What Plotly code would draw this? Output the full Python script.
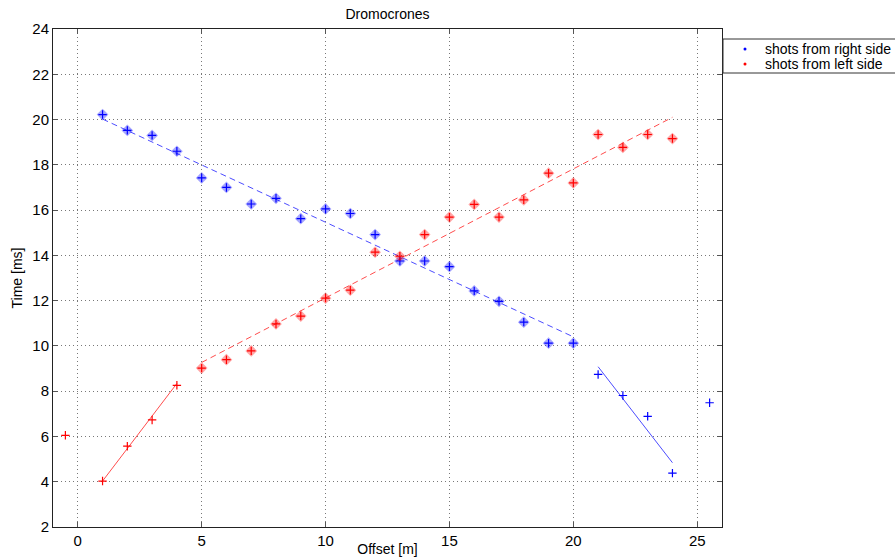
import plotly.graph_objects as go

# ---- data ----
right_x = [1, 2, 3, 4, 5, 6, 7, 8, 9, 10, 11, 12, 13, 14, 15, 16, 17, 18, 19, 20,
           21, 22, 23, 24, 25.5]
right_t = [20.22, 19.52, 19.30, 18.60, 17.42, 17.00, 16.27, 16.52, 15.62, 16.05,
           15.85, 14.92, 13.75, 13.75, 13.50, 12.43, 11.97, 11.05, 10.12, 10.12,
           8.74, 7.81, 6.89, 4.38, 7.49]
right_fit_n = 20  # first N points marked as used in the dashed fit

left_x = [-0.5, 1, 2, 3, 4, 5, 6, 7, 8, 9, 10, 11, 12, 13, 14, 15, 16, 17, 18, 19,
          20, 21, 22, 23, 24]
left_t = [6.05, 4.03, 5.57, 6.73, 8.26, 9.02, 9.39, 9.78, 10.97, 11.32, 12.11,
          12.46, 14.14, 13.96, 14.92, 15.69, 16.25, 15.69, 16.45, 17.63, 17.20,
          19.34, 18.77, 19.34, 19.16]
left_fit_start = 5  # index of first point used in the dashed fit

# fitted line endpoints
right_dash_x = [1, 20]
right_dash_t = [20.02, 10.40]
left_dash_x = [5, 24]
left_dash_t = [9.27, 20.10]
right_solid_x = [21, 24]
right_solid_t = [9.08, 4.84]
left_solid_x = [1, 4]
left_solid_t = [4.03, 8.34]

x_ticks = [0, 5, 10, 15, 20, 25]
y_ticks = [2, 4, 6, 8, 10, 12, 14, 16, 18, 20, 22, 24]

legend_names = ["shots from right side", "shots from left side"]
legend_colors = ["rgb(0,0,255)", "rgb(255,0,0)"]

BLUE = "rgb(0,0,255)"
RED = "rgb(255,0,0)"
FONT = "Liberation Sans, Arial, Helvetica"

fig = go.Figure()

# fit lines
fig.add_trace(go.Scatter(x=right_dash_x, y=right_dash_t, mode="lines",
                         line=dict(color="rgba(0,0,255,0.7)", width=1, dash="6px,4px"),
                         showlegend=False, hoverinfo="skip"))
fig.add_trace(go.Scatter(x=left_dash_x, y=left_dash_t, mode="lines",
                         line=dict(color="rgba(255,0,0,0.7)", width=1, dash="6px,4px"),
                         showlegend=False, hoverinfo="skip"))
fig.add_trace(go.Scatter(x=right_solid_x, y=right_solid_t, mode="lines",
                         line=dict(color="rgba(0,0,255,0.7)", width=1),
                         showlegend=False, hoverinfo="skip"))
fig.add_trace(go.Scatter(x=left_solid_x, y=left_solid_t, mode="lines",
                         line=dict(color="rgba(255,0,0,0.7)", width=1),
                         showlegend=False, hoverinfo="skip"))

# diamond markers for fitted points
fig.add_trace(go.Scatter(x=right_x[:right_fit_n], y=right_t[:right_fit_n], mode="markers",
                         marker=dict(symbol="diamond", size=9, color="rgba(0,0,255,0.35)",
                                     line=dict(width=0)),
                         showlegend=False, hoverinfo="skip"))
fig.add_trace(go.Scatter(x=left_x[left_fit_start:], y=left_t[left_fit_start:], mode="markers",
                         marker=dict(symbol="diamond", size=9, color="rgba(255,0,0,0.35)",
                                     line=dict(width=0)),
                         showlegend=False, hoverinfo="skip"))

# plus markers for all points
fig.add_trace(go.Scatter(x=right_x, y=right_t, mode="markers",
                         marker=dict(symbol="cross-thin", size=6,
                                     line=dict(width=1.2, color=BLUE)),
                         showlegend=False))
fig.add_trace(go.Scatter(x=left_x, y=left_t, mode="markers",
                         marker=dict(symbol="cross-thin", size=6,
                                     line=dict(width=1.2, color=RED)),
                         showlegend=False))

# ---- manual legend box (outside the axes, clipped at the right edge like the original) ----
PLOT_L, PLOT_R, PLOT_T, PLOT_B = 53, 722, 29, 527
W, H = PLOT_R - PLOT_L, PLOT_B - PLOT_T


def px_x(p):
    return (p - PLOT_L) / W


def px_y(p):
    return (PLOT_B - p) / H


shapes = [dict(type="rect", xref="paper", yref="paper",
               x0=px_x(723), x1=px_x(960), y0=px_y(73), y1=px_y(39),
               line=dict(color="#333", width=1), fillcolor="white", layer="above")]
annotations = []
for i, (name, col) in enumerate(zip(legend_names, legend_colors)):
    cy = 49 + 15 * i
    shapes.append(dict(type="circle", xref="paper", yref="paper",
                       x0=px_x(743.5), x1=px_x(746.5), y0=px_y(cy + 1.5), y1=px_y(cy - 1.5),
                       line=dict(width=0), fillcolor=col, layer="above"))
    annotations.append(dict(text=name, xref="paper", yref="paper",
                            x=px_x(763), y=px_y(cy), xanchor="left", yanchor="middle",
                            showarrow=False, font=dict(family=FONT, size=14, color="black")))

axis_common = dict(
    showline=True, linecolor="#222", linewidth=1, mirror="allticks",
    ticks="inside", ticklen=5, tickcolor="#555",
    showgrid=True, gridcolor="rgb(120,120,120)", griddash="1px,3px", gridwidth=1,
    zeroline=False, automargin=False,
    tickfont=dict(family=FONT, size=15, color="black"),
)

fig.update_layout(
    width=895, height=557,
    margin=dict(l=PLOT_L, r=895 - PLOT_R, t=PLOT_T, b=557 - PLOT_B, autoexpand=False),
    paper_bgcolor="white", plot_bgcolor="white",
    font=dict(family=FONT, size=14, color="black"),
    title=dict(text="Dromocrones", x=px_x(387.5) * W / 895 + PLOT_L / 895, xanchor="center",
               y=1 - 14 / 557, yanchor="middle", font=dict(size=14)),
    xaxis=dict(range=[-1, 26], tickvals=x_ticks,
               title=dict(text="Offset [m]", standoff=4, font=dict(size=14)),
               **axis_common),
    yaxis=dict(range=[2, 24], tickvals=y_ticks,
               title=dict(text="Time [ms]", standoff=6, font=dict(size=14)),
               **axis_common),
    showlegend=False,
    shapes=shapes,
    annotations=annotations,
)

fig.write_html("out.html", config={"displayModeBar": False})
